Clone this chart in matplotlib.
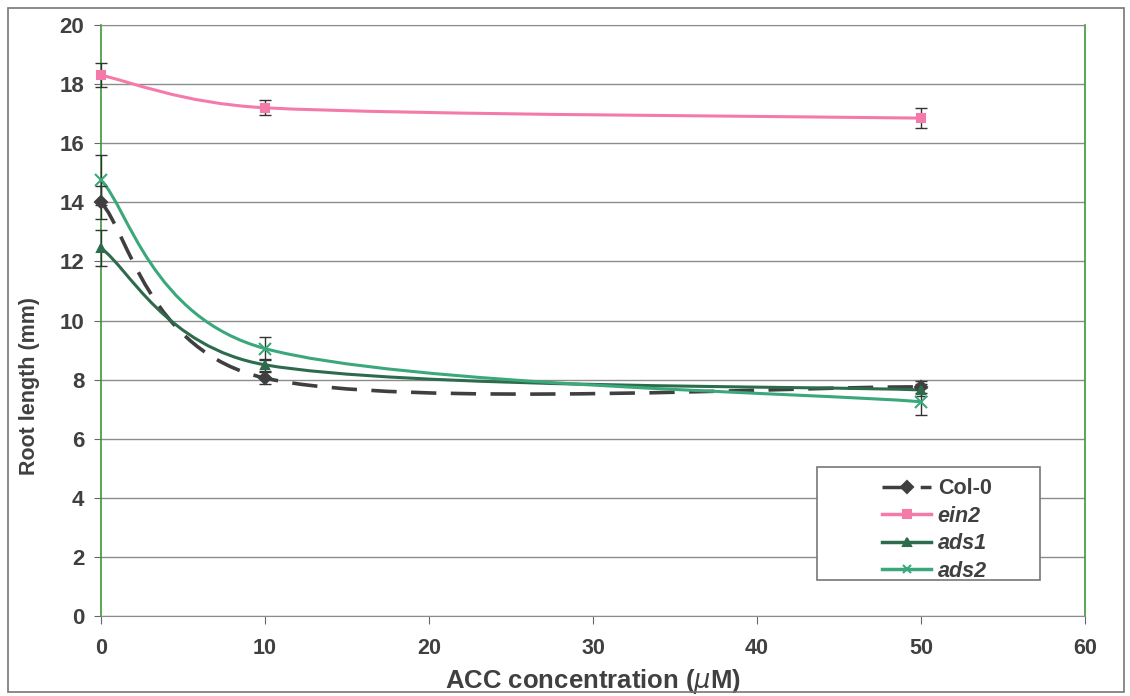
import numpy as np
import matplotlib.pyplot as plt
from matplotlib.path import Path
from matplotlib.patches import PathPatch, Rectangle
from matplotlib.lines import Line2D

plt.rcParams['font.family'] = ['Liberation Sans', 'DejaVu Sans']

acc = [0, 10, 50]
col0 = [14.0, 8.05, 7.75]
col0_err = [0.55, 0.2, 0.2]
ein2 = [18.3, 17.2, 16.85]
ein2_err = [0.4, 0.25, 0.35]
ads1 = [12.45, 8.5, 7.65]
ads1_err = [0.6, 0.2, 0.2]
ads2 = [14.75, 9.05, 7.25]
ads2_err = [0.85, 0.4, 0.45]

labels = ['Col-0', 'ein2', 'ads1', 'ads2']
colors = ['#3f3f3f', '#f47aaa', '#2c6b4c', '#3aa87a']
markers = ['D', 's', '^', 'x']
styles = [(0, (7, 4)), '-', '-', '-']


def smooth_path(ax, x, y):
    # excel-like smoothed line, built in screen space then mapped back to data
    pts = ax.transData.transform(np.column_stack([x, y]))
    n = len(pts)
    outs, ins = [None] * n, [None] * n
    for i in range(1, n - 1):
        d = pts[i + 1] - pts[i - 1]
        dl = np.linalg.norm(d)
        u = d / dl
        l_in = min(dl / 6, np.linalg.norm(pts[i] - pts[i - 1]) / 2)
        l_out = min(dl / 6, np.linalg.norm(pts[i + 1] - pts[i]) / 2)
        ins[i] = pts[i] - u * l_in
        outs[i] = pts[i] + u * l_out
    outs[0] = pts[0] + (pts[1] - pts[0]) / 6
    ins[n - 1] = pts[n - 1] - (pts[n - 1] - pts[n - 2]) / 6
    verts = [pts[0]]
    codes = [Path.MOVETO]
    for i in range(n - 1):
        verts += [outs[i], ins[i + 1], pts[i + 1]]
        codes += [Path.CURVE4] * 3
    verts = ax.transData.inverted().transform(np.array(verts))
    return Path(verts, codes)


fig = plt.figure(figsize=(11.3, 6.96), dpi=100)
ax = fig.add_axes([0.0894, 0.115, 0.8708, 0.849])
ax.set_xlim(0, 60)
ax.set_ylim(0, 20)

series = [(col0, col0_err), (ein2, ein2_err), (ads1, ads1_err), (ads2, ads2_err)]
handles = []
for (vals, errs), lab, c, m, ls in zip(series, labels, colors, markers, styles):
    ax.add_patch(PathPatch(smooth_path(ax, acc, vals), facecolor='none', edgecolor=c,
                           lw=2.6 if ls != '-' else 2.2, linestyle=ls, zorder=3,
                           clip_on=False))
    ax.errorbar(acc, vals, yerr=errs, fmt='none', ecolor='#333333', elinewidth=1.0,
                capsize=4, capthick=1.0, zorder=4, clip_on=False)
    ax.plot(acc, vals, linestyle='none', marker=m, color=c, ms=6 if m != 'x' else 8,
            mew=1.5, zorder=5, clip_on=False)
    handles.append(Line2D([], [], color=c, lw=2.5, ls=ls, marker=m, ms=6, mew=1.5))

ax.set_xticks(range(0, 61, 10))
ax.set_yticks(range(0, 21, 2))
ax.grid(axis='y', color='#8c8c8c', lw=1.0)
ax.set_axisbelow(True)
for s in ['left', 'right']:
    ax.spines[s].set_color('#3a9a3a')
    ax.spines[s].set_linewidth(1.2)
ax.spines['bottom'].set_color('#8c8c8c')
ax.spines['top'].set_color('#8c8c8c')
ax.tick_params(axis='both', direction='out', length=6, color='#666666',
               labelcolor='#404040')
ax.tick_params(axis='x', labelsize=15.5, pad=10)
ax.tick_params(axis='y', labelsize=16, pad=7, length=5)
for t in ax.get_xticklabels() + ax.get_yticklabels():
    t.set_fontweight('bold')

ax.set_xlabel('ACC concentration ($\\mu$M)', fontsize=18.5, fontweight='bold',
              color='#404040')
ax.xaxis.set_label_coords(0.5, -0.086)
ax.set_ylabel('Root length (mm)', fontsize=15.5, fontweight='bold', color='#404040')
ax.yaxis.set_label_coords(-0.062, 0.39)

# legend frame drawn separately so the entries can sit inside it like the original
ax.add_patch(Rectangle((0.7276, 0.061), 0.2266, 0.191, transform=ax.transAxes,
                       facecolor='white', edgecolor='#777777', lw=1.2, zorder=6,
                       clip_on=False))
leg = ax.legend(handles, labels, loc='upper left', bbox_to_anchor=(0.776, 0.262),
                frameon=False, fontsize=15.5, handlelength=2.3, handletextpad=0.3,
                borderpad=0.3, labelspacing=0.3)
leg.set_zorder(7)
for i, t in enumerate(leg.get_texts()):
    t.set_fontweight('bold')
    t.set_color('#404040')
    if i > 0:
        t.set_fontstyle('italic')

fig.patches.append(Rectangle((0.007, 0.006), 0.988, 0.982, transform=fig.transFigure,
                             fill=False, edgecolor='#777777', lw=1.2))

fig.savefig('out.png', dpi=100)
